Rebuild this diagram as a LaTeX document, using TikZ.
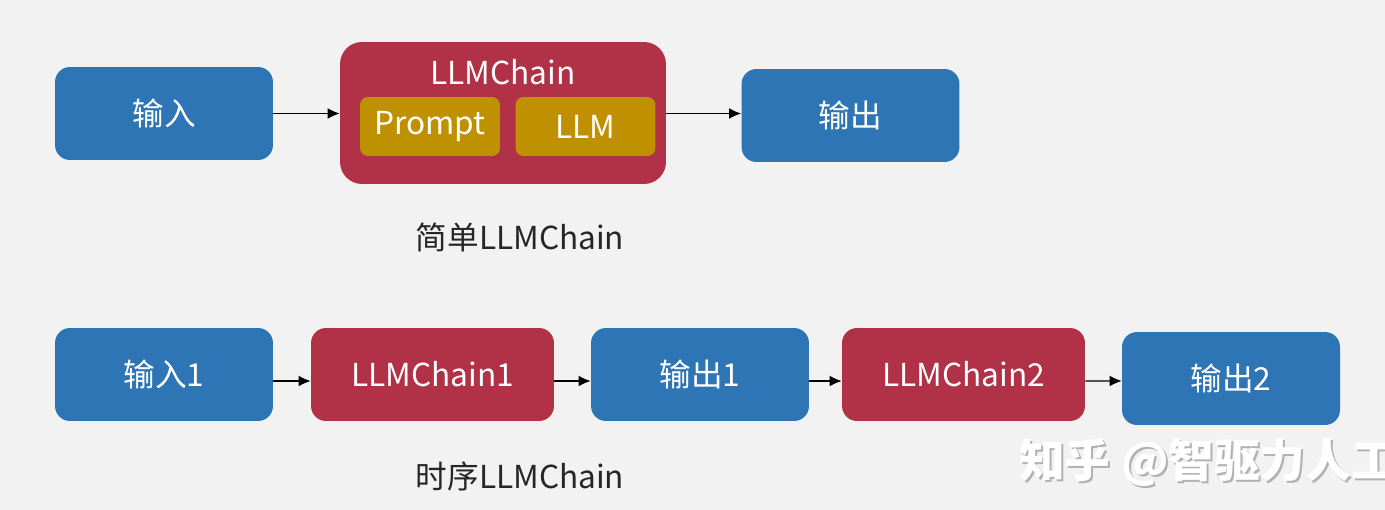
\documentclass[tikz,border=0pt]{standalone}
\usepackage{fontspec}
\setmainfont{Noto Sans CJK SC}
\usetikzlibrary{arrows.meta}

\definecolor{boxblue}{HTML}{2E75B6}
\definecolor{chainred}{HTML}{B13146}
\definecolor{partgold}{HTML}{BF9000}
\definecolor{bggray}{HTML}{F2F2F2}
\definecolor{captiongray}{HTML}{262626}

\tikzset{
  io/.style={fill=boxblue, rounded corners=0.3cm, minimum width=4.36cm,
    minimum height=1.86cm, text=white, font=\fontsize{18}{22}\selectfont},
  chainbox/.style={io, fill=chainred, minimum width=4.86cm},
  part/.style={fill=partgold, rounded corners=0.16cm, minimum width=2.8cm,
    minimum height=1.18cm, text=white, font=\fontsize{18}{22}\selectfont},
  caption/.style={text=captiongray, font=\fontsize{18}{22}\selectfont},
  link/.style={-{Latex[length=6.8pt,width=6pt]}, line width=0.6pt}
}

\begin{document}
\begin{tikzpicture}[x=0.02cm, y=-0.02cm]
      % background
      \fill[bggray] (0,0) rectangle (1385,510);
      \useasboundingbox (0,0) rectangle (1385,510);

      % simple chain
      \node[io] (in) at (164,113.5) {输入};
      \node[fill=chainred, rounded corners=0.44cm, minimum width=6.52cm,
        minimum height=2.84cm] (chain) at (503,113) {};
      \node[text=white, font=\fontsize{18}{22}\selectfont] (chaintitle) at (503,72) {LLMChain};
      \node[part] (prompt) at (430,126.5) {Prompt};
      \node[part] (llm) at (585.5,126.5) {LLM};
      \node[io] (out) at (850.5,115.5) {输出};
      \draw[link] (in.east) -- (in.east -| chain.west);
      \draw[link] (chain.east |- in.east) -- (out.west |- in.east);
      \node[caption] (simplecap) at (520,237) {简单LLMChain};

      % sequential chain
      \node[io] (in1) at (164,374.5) {输入1};
      \node[chainbox] (chain1) at (432.5,374.5) {LLMChain1};
      \node[io] (out1) at (700,374.5) {输出1};
      \node[chainbox] (chain2) at (963.5,374.5) {LLMChain2};
      \node[io] (out2) at (1231,378.5) {输出2};
      \draw[link] ([yshift=-3.7pt]in1.east) -- ([yshift=-3.7pt]chain1.west);
      \draw[link] ([yshift=-3.7pt]chain1.east) -- ([yshift=-3.7pt]out1.west);
      \draw[link] ([yshift=-3.7pt]out1.east) -- ([yshift=-3.7pt]chain2.west);
      \draw[link] ([yshift=-3.7pt]chain2.east) -- ([yshift=-1.4pt]out2.west);
      \node[caption] (seqcap) at (520,476) {时序LLMChain};

      % watermark (cut off at the right edge, as in the source)
      \node[anchor=west, text=black!30, font=\fontsize{26}{30}\bfseries] (markshadow) at (1015,464) {知乎 @智驱力人工};
      \node[anchor=west, text=white, font=\fontsize{26}{30}\bfseries] (mark) at (1013,462) {知乎 @智驱力人工};
\end{tikzpicture}
\end{document}
